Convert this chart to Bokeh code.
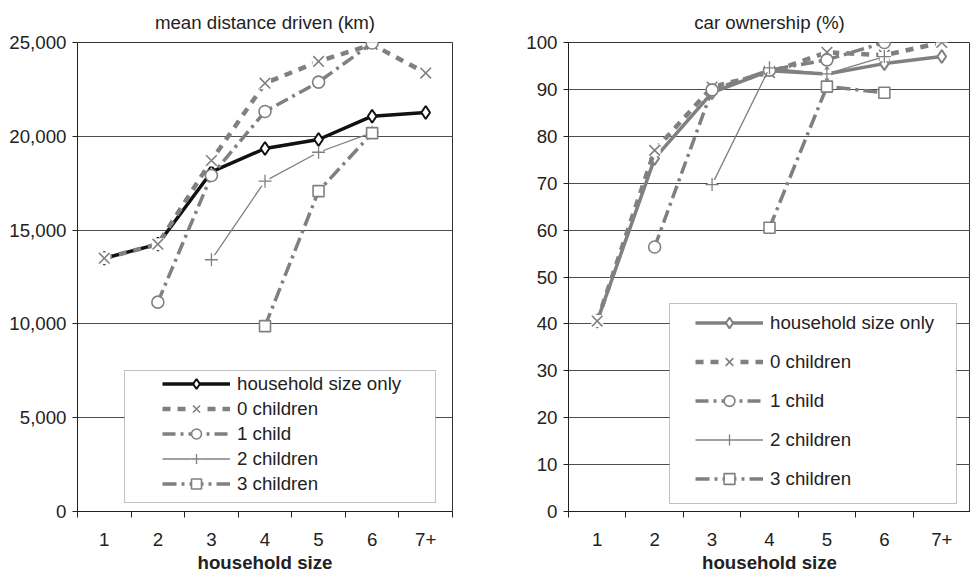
import numpy as np
from bokeh.plotting import figure
from bokeh.layouts import row
from bokeh.models import (Legend, LegendItem, FixedTicker, NumeralTickFormatter,
                          BoxAnnotation, Range1d)
from bokeh.embed import file_html
from bokeh.resources import INLINE

# ---------------- data ----------------
categories = ["1", "2", "3", "4", "5", "6", "7+"]
series_names = ["household size only", "0 children", "1 child", "2 children", "3 children"]

# mean distance driven (km)
dist_household = [13500, 14250, 18100, 19350, 19830, 21070, 21270]
dist_0_children = [13500, 14250, 18710, 22830, 23990, 24900, 23370]
dist_1_child = [None, 11160, 17910, 21320, 22890, 24970, None]
dist_2_children = [None, None, 13420, 17610, 19150, 20200, None]
dist_3_children = [None, None, None, 9880, 17080, 20170, None]

# car ownership (%)
own_household = [40.6, 75.3, 89.3, 94.0, 93.3, 95.5, 97.0]
own_0_children = [40.6, 77.0, 90.5, 93.6, 97.9, 97.3, 100.0]
own_1_child = [None, 56.4, 89.9, 94.1, 96.3, 100.0, None]
own_2_children = [None, None, 69.7, 94.6, 93.3, 97.0, None]
own_3_children = [None, None, None, 60.5, 90.6, 89.3, None]

dist_ticks = [0, 5000, 10000, 15000, 20000, 25000]
own_ticks = [0, 10, 20, 30, 40, 50, 60, 70, 80, 90, 100]

FONT = "Liberation Sans"
FS = "18.7px"
GREY = "#808080"
TEXT = "#222222"


def make_chart(title, series, yticks, yfmt, main_color, width, border_left, border_right,
               box, legend_loc, legend_spacing, glyph_h):
    xs = np.arange(1, len(categories) + 1)
    p = figure(width=width, height=576, output_backend="svg", toolbar_location=None,
               x_range=Range1d(0.5, len(categories) + 0.5),
               y_range=Range1d(yticks[0], yticks[-1]),
               min_border_left=border_left, min_border_right=border_right,
               min_border_top=42, min_border_bottom=65,
               background_fill_color="white", border_fill_color="white")
    p.outline_line_color = "#333333"
    p.outline_line_width = 1

    p.title.text = title
    p.title.align = "center"
    p.title.text_font = FONT
    p.title.text_font_size = FS
    p.title.text_font_style = "normal"
    p.title.text_color = TEXT
    p.title.standoff = 19

    # x axis
    xa = p.xaxis[0]
    xa.ticker = FixedTicker(ticks=list(xs), minor_ticks=list(np.arange(0.5, len(categories) + 1, 1.0)))
    xa.major_label_overrides = {int(x): c for x, c in zip(xs, categories)}
    xa.major_tick_line_color = None
    xa.major_tick_out = 0
    xa.major_tick_in = 0
    xa.minor_tick_out = 6
    xa.minor_tick_in = 0
    xa.minor_tick_line_color = "#222222"
    xa.axis_line_color = "#222222"
    xa.major_label_standoff = 15
    xa.major_label_text_font = FONT
    xa.major_label_text_font_size = FS
    xa.major_label_text_color = TEXT
    xa.axis_label = "household size"
    xa.axis_label_text_font = FONT
    xa.axis_label_text_font_size = FS
    xa.axis_label_text_font_style = "bold"
    xa.axis_label_text_color = TEXT
    xa.axis_label_standoff = 3
    p.xgrid.visible = False

    # y axis
    ya = p.yaxis[0]
    ya.ticker = FixedTicker(ticks=yticks)
    ya.formatter = NumeralTickFormatter(format=yfmt)
    ya.major_tick_out = 5
    ya.major_tick_in = 0
    ya.minor_tick_line_color = None
    ya.major_tick_line_color = "#222222"
    ya.axis_line_color = "#222222"
    ya.major_label_standoff = 6
    ya.major_label_text_font = FONT
    ya.major_label_text_font_size = FS
    ya.major_label_text_color = TEXT
    p.ygrid.grid_line_color = "#4d4d4d"
    p.ygrid.grid_line_width = 1

    styles = [
        dict(color=main_color, width=3.5, dash="solid"),
        dict(color=GREY, width=4.5, dash="8 7"),
        dict(color=GREY, width=3.5, dash="13 5 3 5"),
        dict(color=GREY, width=1.3, dash="solid"),
        dict(color=GREY, width=3.5, dash="14 5 3 5"),
    ]
    items = []
    for i, (name, vals) in enumerate(zip(series_names, series)):
        y = np.array(vals, dtype=float)
        st = styles[i]
        rs = []
        rs.append(p.line(xs, y, line_color=st["color"], line_width=st["width"],
                         line_dash=st["dash"]))
        if i == 0:
            rs.append(p.scatter(xs, y, marker="diamond", size=13,
                                fill_color="white", line_color=main_color, line_width=2))
        elif i == 1:
            rs.append(p.scatter(xs, y, marker="square", size=12, fill_color="white",
                                line_alpha=0))
            rs.append(p.scatter(xs, y, marker="x", size=15, line_color=GREY, line_width=1.6))
        elif i == 2:
            rs.append(p.scatter(xs, y, marker="circle", size=12, fill_color="white",
                                line_color=GREY, line_width=1.6))
        elif i == 3:
            rs.append(p.scatter(xs, y, marker="square", size=9, fill_color="white",
                                line_alpha=0))
            rs.append(p.scatter(xs, y, marker="cross", size=13, line_color=GREY, line_width=1.3))
        else:
            rs.append(p.scatter(xs, y, marker="square", size=11, fill_color="white",
                                line_color=GREY, line_width=1.6))
        items.append(LegendItem(label=name, renderers=rs))

    bl, br, bb, bt = box
    p.add_layout(BoxAnnotation(left=bl, right=br, bottom=bb, top=bt,
                               left_units="screen", right_units="screen",
                               bottom_units="screen", top_units="screen",
                               fill_color="white", fill_alpha=1.0,
                               line_color="#333333", line_width=1))
    legend = Legend(items=items, location=legend_loc, padding=0, margin=0,
                    spacing=legend_spacing, glyph_width=68, glyph_height=glyph_h,
                    label_height=glyph_h, label_standoff=7,
                    label_text_font=FONT, label_text_font_size=FS,
                    label_text_color=TEXT,
                    border_line_alpha=0, background_fill_alpha=0)
    p.add_layout(legend)
    return p


left = make_chart("mean distance driven (km)",
                  [dist_household, dist_0_children, dist_1_child, dist_2_children, dist_3_children],
                  dist_ticks, "0,0", "#111111", 485, 77, 33,
                  (47, 358, 9, 141), (85, 15), 0, 25)
right = make_chart("car ownership (%)",
                   [own_household, own_0_children, own_1_child, own_2_children, own_3_children],
                   own_ticks, "0", GREY, 485, 83, 0,
                   (101, 388, 8, 208), (127, 19), 12, 27)

layout = row(left, right, spacing=0)
open("out.html", "w").write(file_html(layout, INLINE))
